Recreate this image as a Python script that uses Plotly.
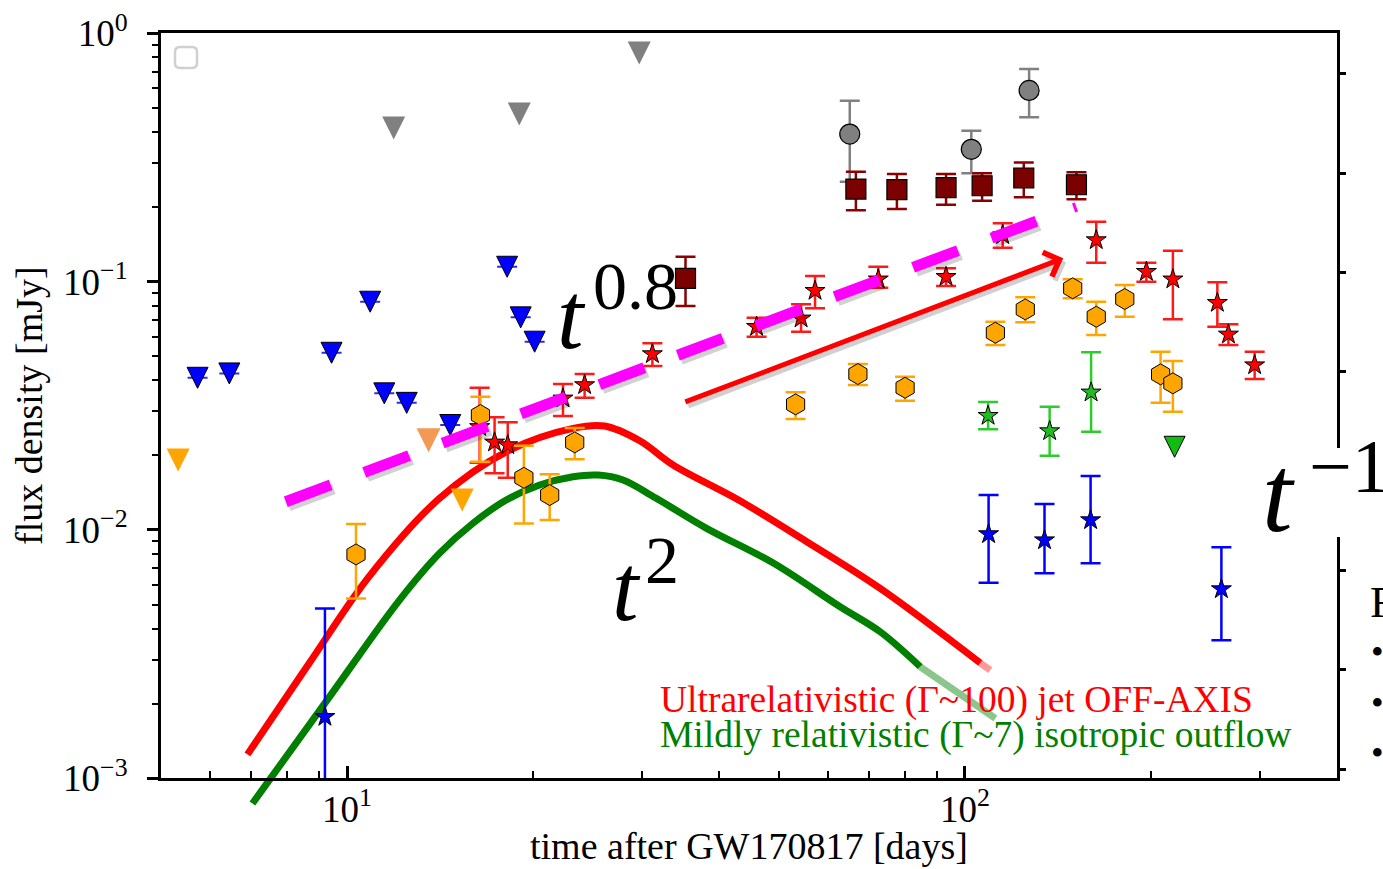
import numpy as np
import plotly.graph_objects as go

# ---------------- canvas / plot-area geometry (pixels) ----------------
W, H = 1383, 869
PL, PR, PT, PB = 161.0, 1337.0, 33.3, 778.3
CURVE_BOTTOM = 815.0
X_MIN, X_MAX = 5.0, 400.0
Y_LO_EXP, Y_HI_EXP = -3, 0

# ---------------- data ----------------
gray_lim_t = [11.9, 19.0, 29.7]
gray_lim_f = [0.416, 0.473, 0.833]

gray_t = [65.1, 102.4, 127.0]
gray_f = [0.393, 0.341, 0.589]
gray_hi = [0.535, 0.405, 0.718]
gray_lo = [0.2525, 0.273, 0.459]

sq_t = [35.3, 66.6, 77.6, 93.2, 106.6, 124.5, 151.5]
sq_f = [0.1031, 0.236, 0.2345, 0.239, 0.2433, 0.2614, 0.2456]
sq_hi = [0.126, 0.277, 0.271, 0.271, 0.273, 0.302, 0.2756]
sq_lo = [0.0797, 0.194, 0.196, 0.204, 0.2117, 0.2186, 0.2146]

blue_lim_t = [5.73, 6.45, 9.44, 10.9, 11.49, 12.49, 14.69, 18.16, 19.1, 20.12]
blue_lim_f = [0.0410, 0.0427, 0.0517, 0.0830, 0.0355, 0.0325, 0.02646, 0.1148, 0.0718, 0.0573]

orange_lim_t = [5.33, 15.36]
orange_lim_f = [0.01912, 0.0132]
sandy_lim_t = [13.55]
sandy_lim_f = [0.0230]

red_t = [16.39, 17.33, 18.2, 22.36, 24.24, 31.2, 46.0, 54.3, 57.2, 72.4, 93.2,
         115.1, 163.1, 196.6, 217.0, 256.1, 266.9, 294.3]
red_f = [0.026, 0.02253, 0.02197, 0.03388, 0.03834, 0.0511, 0.0658, 0.07115, 0.0919,
         0.1022, 0.1046, 0.154, 0.147, 0.1096, 0.1022, 0.0822, 0.0613, 0.0461]
red_hi = [0.03738, 0.02841, 0.02712, 0.0387, 0.04245, 0.05643, 0.07155, 0.081, 0.1053,
          0.1148, 0.1131, 0.1717, 0.1743, 0.1192, 0.1331, 0.0994, 0.0673, 0.0522]
red_lo = [0.01865, 0.0169, 0.01622, 0.02875, 0.03406, 0.04572, 0.05999, 0.06284, 0.0781,
          0.0945, 0.096, 0.137, 0.1192, 0.0999, 0.0705, 0.0658, 0.0556, 0.0405]

hex_t = [10.34, 16.44, 19.33, 21.28, 23.36, 53.2, 67.1, 80.0, 112.0, 125.2, 149.4,
         163.1, 181.4, 207.3, 217.0]
hex_f = [0.00797, 0.02902, 0.01622, 0.01382, 0.02253, 0.03204, 0.04245, 0.03738,
         0.06226, 0.0773, 0.0940, 0.0722, 0.0851, 0.04232, 0.03895]
hex_hi = [0.01056, 0.03439, 0.02183, 0.01675, 0.02573, 0.03582, 0.04657, 0.0414,
          0.0689, 0.0865, 0.1022, 0.083, 0.0969, 0.0522, 0.0479]
hex_lo = [0.0053, 0.01883, 0.01063, 0.01096, 0.01925, 0.02796, 0.03834, 0.03313,
          0.0556, 0.0686, 0.0857, 0.0609, 0.0722, 0.03253, 0.0299]

blue_t = [9.21, 109.2, 134.5, 159.7, 260.0]
blue_f = [0.001769, 0.00963, 0.0091, 0.01096, 0.00578]
blue_hi = [0.00483, 0.01382, 0.01272, 0.01648, 0.00851]
blue_lo = [0.00095, 0.00613, 0.00669, 0.00734, 0.0036]

green_t = [109.0, 137.1, 160.0]
green_f = [0.02884, 0.02502, 0.03582]
green_hi = [0.03275, 0.03135, 0.05192]
green_lo = [0.02542, 0.0199, 0.02486]
green_lim_t = [218.4]
green_lim_f = [0.02163]

# model curves
jet_t = [6.90, 8.69, 10.87, 14.11, 18.10, 23.21, 26.12, 29.77, 33.71, 43.23, 55.46, 72.91, 105.9]
jet_f = [0.001248, 0.002911, 0.006522, 0.01341, 0.02065, 0.02565, 0.02621, 0.02286, 0.01826,
         0.01311, 0.008966, 0.005817, 0.002911]
jet_fade_t = [105.9, 109.9]
jet_fade_f = [0.002911, 0.002728]

iso_t = [7.03, 9.36, 12.16, 14.11, 15.98, 18.10, 20.50, 23.21, 25.48, 27.97, 31.60, 38.18,
         48.96, 62.80, 72.91, 84.66]
iso_f = [0.000792, 0.002123, 0.005221, 0.008048, 0.01063, 0.01320, 0.01517, 0.01638, 0.01664,
         0.01589, 0.01344, 0.01015, 0.007356, 0.004906, 0.00389, 0.002812]
iso_fade_t = [84.66, 112.0]
iso_fade_f = [0.002812, 0.001742]

# guide t^0.8 dashed line, small tick, arrow
guide_t = [7.96, 132.1]
guide_f = [0.01299, 0.1770]
tick_t = [149.8, 151.6]
tick_f = [0.2073, 0.1907]
arrow_t = [35.08, 144.2]
arrow_f = [0.0326, 0.1241]

x_tick_vals = [10, 100]
x_tick_text = ["10<sup>1</sup>", "10<sup>2</sup>"]
x_minor_vals = [6, 7, 8, 9, 20, 30, 40, 50, 60, 70, 80, 90, 200, 300]
y_tick_vals = [0.001, 0.01, 0.1, 1]
y_tick_text = ["10<sup>\u22123</sup>", "10<sup>\u22122</sup>", "10<sup>\u22121</sup>", "10<sup>0</sup>"]
y_minor_vals = [k * 10.0 ** e for e in (-3, -2, -1) for k in range(2, 10)]

# ---------------- helpers ----------------
def px(x):
    return x / W

def py(y):
    return 1 - y / H

LX = [np.log10(X_MIN), np.log10(X_MAX)]
DEC_X = (PR - PL) / (LX[1] - LX[0])
DEC_Y = (PB - PT) / (Y_HI_EXP - Y_LO_EXP)
SERIF = "Liberation Serif"


def errs(v, hi, lo):
    v = np.array(v); hi = np.array(hi); lo = np.array(lo)
    return (hi - v).tolist(), (v - lo).tolist()


fig = go.Figure()

# ---- model curves on their own (hidden) axes, allowed to run below the frame ----
fig.add_trace(go.Scatter(x=jet_t, y=jet_f, mode="lines", line=dict(color="#ff0000", width=7, shape="spline"),
                         xaxis="x", yaxis="y", hoverinfo="skip"))
fig.add_trace(go.Scatter(x=jet_fade_t, y=jet_fade_f, mode="lines", line=dict(color="rgba(255,0,0,0.4)", width=7),
                         xaxis="x", yaxis="y", hoverinfo="skip"))
fig.add_trace(go.Scatter(x=iso_t, y=iso_f, mode="lines", line=dict(color="#007f00", width=7, shape="spline"),
                         xaxis="x", yaxis="y", hoverinfo="skip"))
fig.add_trace(go.Scatter(x=iso_fade_t, y=iso_fade_f, mode="lines", line=dict(color="rgba(0,128,0,0.45)", width=7),
                         xaxis="x", yaxis="y", hoverinfo="skip"))


def add_pts(t, f, symbol, size, color, edge=None, ew=1.0, err=None, ecolor=None, ethick=2, standoff=0):
    mk = dict(symbol=symbol, size=size, color=color,
              line=dict(color=edge if edge else color, width=ew if edge else 0))
    if standoff:
        mk["standoff"] = standoff
    kw = {}
    if err is not None:
        kw["error_y"] = dict(type="data", symmetric=False, array=err[0], arrayminus=err[1],
                             color=ecolor, thickness=ethick, width=10)
    fig.add_trace(go.Scatter(x=t, y=f, mode="markers", marker=mk, xaxis="x2", yaxis="y2",
                             hoverinfo="skip", **kw))


# upper limits (triangles, centred)
add_pts(gray_lim_t, gray_lim_f, "arrow-down", 23, "#808080", standoff=11.5)
add_pts(blue_lim_t, blue_lim_f, "arrow-down", 21, "#0000ff", edge="black", ew=1,
        err=([0] * len(blue_lim_t), [0] * len(blue_lim_t)), ecolor="#2a2aff", standoff=10.5)
add_pts(orange_lim_t, orange_lim_f, "arrow-down", 23, "#ffa500", standoff=11.5)
add_pts(sandy_lim_t, sandy_lim_f, "arrow-down", 24, "rgb(243,153,83)", standoff=12)
add_pts(green_lim_t, green_lim_f, "arrow-down", 21, "#11bb11", edge="black", ew=1, standoff=10.5)

# detections
add_pts(gray_t, gray_f, "circle", 20, "#808080", edge="black", ew=1.2,
        err=errs(gray_f, gray_hi, gray_lo), ecolor="#808080", ethick=2.5)
add_pts(sq_t, sq_f, "square", 20, "#7b0000", edge="black", ew=1.2,
        err=errs(sq_f, sq_hi, sq_lo), ecolor="#8b0000", ethick=2.5)
add_pts(red_t, red_f, "star", 15, "#ff0000", edge="black", ew=1,
        err=errs(red_f, red_hi, red_lo), ecolor="#ff1a1a", ethick=2.5)
add_pts(hex_t, hex_f, "hexagon", 21, "#ffa500", edge="black", ew=1,
        err=errs(hex_f, hex_hi, hex_lo), ecolor="#ffa500", ethick=2.5)
add_pts(blue_t, blue_f, "star", 15, "#0000ff", edge="black", ew=1,
        err=errs(blue_f, blue_hi, blue_lo), ecolor="#0000ff", ethick=2.5)
add_pts(green_t, green_f, "star", 15, "#22bb22", edge="black", ew=1,
        err=errs(green_f, green_hi, green_lo), ecolor="#2dcc2d", ethick=2.5)

# dashed t^0.8 guide with a soft shadow
sh_t = [t * 10 ** (3 / DEC_X) for t in guide_t]
sh_f = [f * 10 ** (-4 / DEC_Y) for f in guide_f]
fig.add_trace(go.Scatter(x=sh_t, y=sh_f, mode="lines",
                         line=dict(color="rgba(0,0,0,0.18)", width=11, dash="48px,35.7px"),
                         xaxis="x2", yaxis="y2", hoverinfo="skip"))
fig.add_trace(go.Scatter(x=guide_t, y=guide_f, mode="lines",
                         line=dict(color="#ff00ff", width=11, dash="48px,35.7px"),
                         xaxis="x2", yaxis="y2", hoverinfo="skip"))
fig.add_trace(go.Scatter(x=tick_t, y=tick_f, mode="lines", line=dict(color="#ff00ff", width=3),
                         xaxis="x2", yaxis="y2", hoverinfo="skip"))
fig.add_trace(go.Scatter(x=[], y=[], xaxis="x2", yaxis="y3", hoverinfo="skip"))

# ---------------- annotations ----------------
ann = []
lt = np.log10(arrow_t)
lf = np.log10(arrow_f)
ann.append(dict(x=lt[1] + 3 / DEC_X, y=lf[1] - 4 / DEC_Y, ax=lt[0] + 3 / DEC_X, ay=lf[0] - 4 / DEC_Y,
                xref="x2", yref="y2", axref="x2", ayref="y2", text="", showarrow=True,
                arrowhead=4, arrowsize=1, arrowwidth=5, arrowcolor="rgba(0,0,0,0.18)"))
ann.append(dict(x=lt[1], y=lf[1], ax=lt[0], ay=lf[0],
                xref="x2", yref="y2", axref="x2", ayref="y2", text="", showarrow=True,
                arrowhead=4, arrowsize=1, arrowwidth=5, arrowcolor="#ff0000"))


def txt(s, x, y, size, color="black", xanchor="center", angle=0, family=SERIF):
    ann.append(dict(text=s, x=px(x), y=py(y), xref="paper", yref="paper", showarrow=False,
                    xanchor=xanchor, yanchor="middle", textangle=angle,
                    font=dict(family=family, size=size, color=color)))


txt("time after GW170817 [days]", 749, 846, 38)
txt("flux density [mJy]", 29, 406, 38, angle=-90)
txt("Ultrarelativistic (\u0393~100) jet OFF-AXIS", 658, 700, 37.5, color="#ff0000", xanchor="left")
txt("Mildly relativistic (\u0393~7) isotropic outflow", 658, 735, 37.5, color="#008000", xanchor="left")
txt("<i>t</i>", 571.5, 316, 95)
txt("0.8", 591, 286, 68, xanchor="left")
txt("<i>t</i>", 626, 588, 95)
txt("2", 661.5, 560, 68)
txt("<i>t</i>", 1278, 494, 110)
txt("\u22121", 1307, 466, 76, xanchor="left")
txt("F", 1368, 602, 45, xanchor="left")
for yb in (652, 703, 753):
    txt("\u2022", 1377, yb, 36)


def rounded_rect(x0, y0, x1, y1, r):
    def P(x, y):
        return f"{px(x):.5f},{py(y):.5f}"
    return (f"M{P(x0 + r, y0)} L{P(x1 - r, y0)} Q{P(x1, y0)} {P(x1, y0 + r)} "
            f"L{P(x1, y1 - r)} Q{P(x1, y1)} {P(x1 - r, y1)} L{P(x0 + r, y1)} "
            f"Q{P(x0, y1)} {P(x0, y1 - r)} L{P(x0, y0 + r)} Q{P(x0, y0)} {P(x0 + r, y0)} Z")


shapes = [
    dict(type="path", path=rounded_rect(175, 47, 197, 68, 5), xref="paper", yref="paper",
         line=dict(color="#d0d0d0", width=2.5), fillcolor="rgba(0,0,0,0)"),
    dict(type="rect", x0=px(1250), x1=px(1383), y0=py(537), y1=py(448), xref="paper", yref="paper",
         line=dict(width=0), fillcolor="white", layer="above"),
]

tickfont = dict(family=SERIF, size=37, color="black")
x_dom = [px(PL), px(PR)]
y_dom = [py(PB), py(PT)]
curve_lo = Y_LO_EXP - (CURVE_BOTTOM - PB) / DEC_Y

# right-hand linear frame ticks
R_SP = 99.3
r0 = -(PB - 769.0) / R_SP
r1 = r0 + (PB - PT) / R_SP

fig.update_layout(
    width=W, height=H,
    margin=dict(l=0, r=0, t=0, b=0),
    paper_bgcolor="white", plot_bgcolor="rgba(0,0,0,0)",
    showlegend=False,
    font=dict(family=SERIF, color="black"),
    xaxis=dict(type="log", range=LX, domain=x_dom, anchor="y", visible=False, fixedrange=True),
    yaxis=dict(type="log", range=[curve_lo, Y_HI_EXP], domain=[py(CURVE_BOTTOM), py(PT)],
               anchor="x", visible=False, fixedrange=True),
    xaxis2=dict(type="log", range=LX, domain=x_dom, anchor="y2",
                tickmode="array", tickvals=x_tick_vals, ticktext=x_tick_text,
                ticks="inside", ticklen=12, tickwidth=2.5, tickcolor="black",
                minor=dict(tickmode="array", tickvals=x_minor_vals, ticks="inside", ticklen=7,
                           tickwidth=2, tickcolor="black"),
                showline=True, linecolor="black", linewidth=3, mirror=True,
                showgrid=False, zeroline=False, tickfont=tickfont, ticklabelstandoff=-4,
                automargin=False),
    yaxis2=dict(type="log", range=[Y_LO_EXP, Y_HI_EXP], domain=y_dom, anchor="x2",
                tickmode="array", tickvals=y_tick_vals, ticktext=y_tick_text,
                ticks="outside", ticklen=11, tickwidth=2.5, tickcolor="black",
                minor=dict(tickmode="array", tickvals=y_minor_vals, ticks="outside", ticklen=6,
                           tickwidth=2, tickcolor="black"),
                showline=True, linecolor="black", linewidth=3, mirror=False,
                showgrid=False, zeroline=False, tickfont=tickfont, ticklabelstandoff=12,
                automargin=False),
    yaxis3=dict(range=[r0, r1], overlaying="y2", anchor="x2", side="right",
                tickmode="linear", tick0=0, dtick=1, ticks="outside", ticklen=6, tickwidth=3,
                tickcolor="black", showticklabels=False, showline=True, linecolor="black",
                linewidth=3, showgrid=False, zeroline=False, automargin=False),
    annotations=ann,
    shapes=shapes,
)

fig.write_html("out.html")
